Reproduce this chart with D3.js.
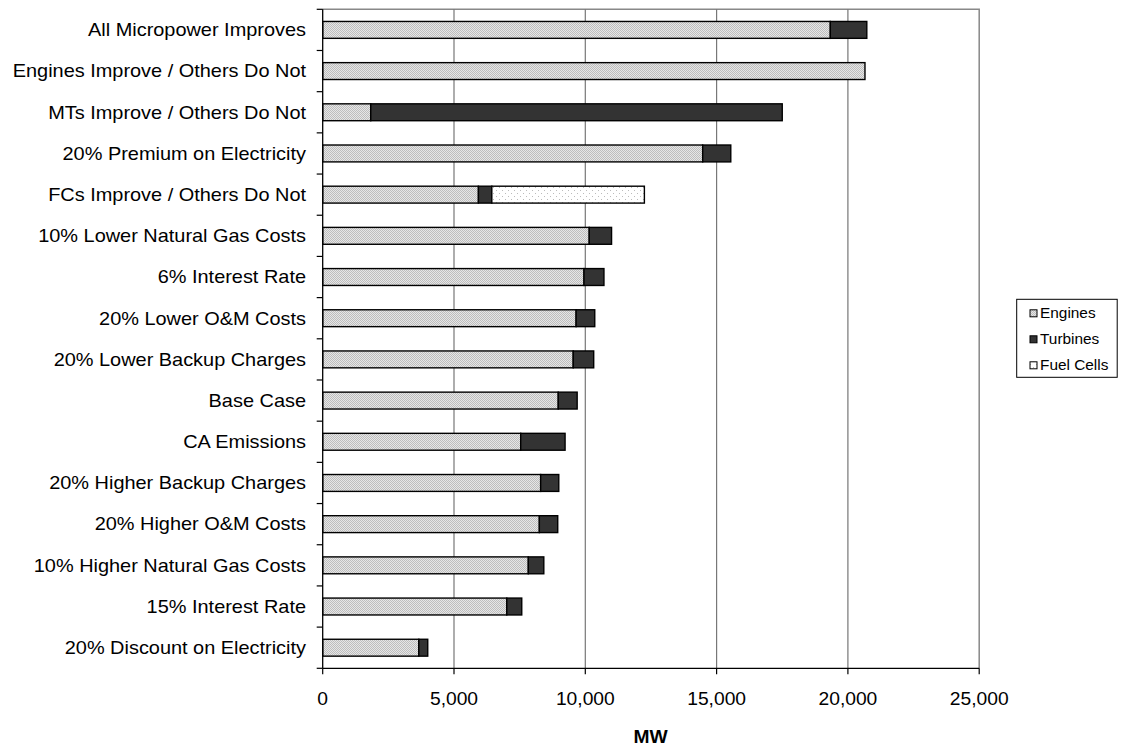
<!DOCTYPE html>
<html><head><meta charset="utf-8">
<script src="https://cdn.jsdelivr.net/npm/d3@7"></script>
<style>body{margin:0;background:#fff}svg{display:block}text{font-family:"Liberation Sans",Arial,sans-serif;fill:#000}</style>
</head><body><svg id="c" width="1123" height="747"></svg>
<script>
const categories = ["All Micropower Improves","Engines Improve / Others Do Not","MTs Improve / Others Do Not","20% Premium on Electricity","FCs Improve / Others Do Not","10% Lower Natural Gas Costs","6% Interest Rate","20% Lower O&M Costs","20% Lower Backup Charges","Base Case","CA Emissions","20% Higher Backup Charges","20% Higher O&M Costs","10% Higher Natural Gas Costs","15% Interest Rate","20% Discount on Electricity"];
const engines  = [19330,20650,1830,14470,5930,10150,9950,9650,9540,8970,7540,8300,8250,7830,7010,3660];
const turbines = [1390,0,15670,1070,510,850,760,710,780,720,1690,690,700,590,570,340];
const fuelCells= [0,0,0,0,5810,0,0,0,0,0,0,0,0,0,0,0];
const seriesNames = ["Engines","Turbines","Fuel Cells"];
const xTicks = [0,5000,10000,15000,20000,25000];
const axisTitle = "MW";

const svg = d3.select("#c");
const defs = svg.append("defs");
const pe = defs.append("pattern").attr("id","pEng").attr("width",2).attr("height",2).attr("patternUnits","userSpaceOnUse");
pe.append("rect").attr("width",2).attr("height",2).attr("fill","#e6e6e6");
pe.append("rect").attr("width",1).attr("height",1).attr("fill","#bdbdbd");
pe.append("rect").attr("x",1).attr("y",1).attr("width",1).attr("height",1).attr("fill","#bdbdbd");
const pf = defs.append("pattern").attr("id","pFc").attr("width",6).attr("height",6).attr("patternUnits","userSpaceOnUse");
pf.append("rect").attr("width",6).attr("height",6).attr("fill","#fff");
pf.append("rect").attr("x",1).attr("y",1).attr("width",1).attr("height",1).attr("fill","#bbb");
pf.append("rect").attr("x",4).attr("y",4).attr("width",1).attr("height",1).attr("fill","#bbb");
const fills = ["url(#pEng)","#333333","url(#pFc)"];

const L=322.7, R=979.2, T=9.3, B=668.3;
const x = d3.scaleLinear().domain([0,25000]).range([L,R]);
const y = d3.scaleBand().domain(categories).range([T,B]).paddingInner(0.59).paddingOuter(0.295);
const yOuter = d3.scaleBand().domain(categories).range([T,B]);

// frame top/right
svg.append("path").attr("d",`M${L},${T}H${R}V${B}`).attr("fill","none").attr("stroke","#888").attr("stroke-width",1.5);
// grid
svg.append("g").selectAll("line").data(xTicks.filter(d=>d>0&&d<25000)).join("line")
  .attr("x1",d=>x(d)).attr("x2",d=>x(d)).attr("y1",T).attr("y2",B).attr("stroke","#777").attr("stroke-width",1.2);

// stacked bars
const data = categories.map((c,i)=>({c, vals:[engines[i],turbines[i],fuelCells[i]]}));
const stack = d3.stack().keys([0,1,2]).value((d,k)=>d.vals[k])(data);
stack.forEach((layer,k)=>{
  svg.append("g").selectAll("rect").data(layer.filter(d=>d[1]-d[0]>0)).join("rect")
    .attr("x",d=>x(d[0])).attr("width",d=>x(d[1])-x(d[0]))
    .attr("y",d=>y(d.data.c)).attr("height",y.bandwidth())
    .attr("fill",fills[k]).attr("stroke","#000").attr("stroke-width",1.4);
});

// y axis
const yg = svg.append("g");
yg.append("line").attr("x1",L).attr("x2",L).attr("y1",T).attr("y2",B).attr("stroke","#000").attr("stroke-width",1.3);
const yTickPos = d3.range(categories.length+1).map(i=>T+i*yOuter.step());
yg.selectAll("line.t").data(yTickPos).join("line").attr("class","t")
  .attr("x1",L-6).attr("x2",L).attr("y1",d=>d).attr("y2",d=>d).attr("stroke","#000").attr("stroke-width",1.2);
yg.selectAll("text").data(categories).join("text")
  .attr("transform",d=>`translate(306,${yOuter(d)+yOuter.bandwidth()/2+6.3}) scale(1.12,1)`)
  .attr("text-anchor","end").attr("font-size",17.8).text(d=>d);

// x axis
const xg = svg.append("g");
xg.append("line").attr("x1",L).attr("x2",R).attr("y1",B).attr("y2",B).attr("stroke","#000").attr("stroke-width",1.3);
xg.selectAll("line.t").data(xTicks).join("line").attr("class","t")
  .attr("x1",d=>x(d)).attr("x2",d=>x(d)).attr("y1",B).attr("y2",B+6).attr("stroke","#000").attr("stroke-width",1.2);
xg.selectAll("text").data(xTicks).join("text")
  .attr("transform",d=>`translate(${x(d)},704.5) scale(1.1,1)`)
  .attr("text-anchor","middle").attr("font-size",17.5).text(d=>d3.format(",")(d));
svg.append("text").attr("transform",`translate(650.5,743) scale(1.1,1)`).attr("text-anchor","middle")
  .attr("font-size",17.5).attr("font-weight","bold").text(axisTitle);

// legend
const lg = svg.append("g");
lg.append("rect").attr("x",1016.7).attr("y",299.3).attr("width",100.5).attr("height",78).attr("fill","#fff").attr("stroke","#000").attr("stroke-width",1);
seriesNames.forEach((n,i)=>{
  const cy = 313.3 + i*26;
  lg.append("rect").attr("x",1030).attr("y",cy-3.5).attr("width",7).attr("height",7).attr("fill",fills[i]).attr("stroke","#000").attr("stroke-width",1);
  lg.append("text").attr("transform",`translate(1040,${cy+5}) scale(1.1,1)`).attr("font-size",14).text(n);
});
</script></body></html>
